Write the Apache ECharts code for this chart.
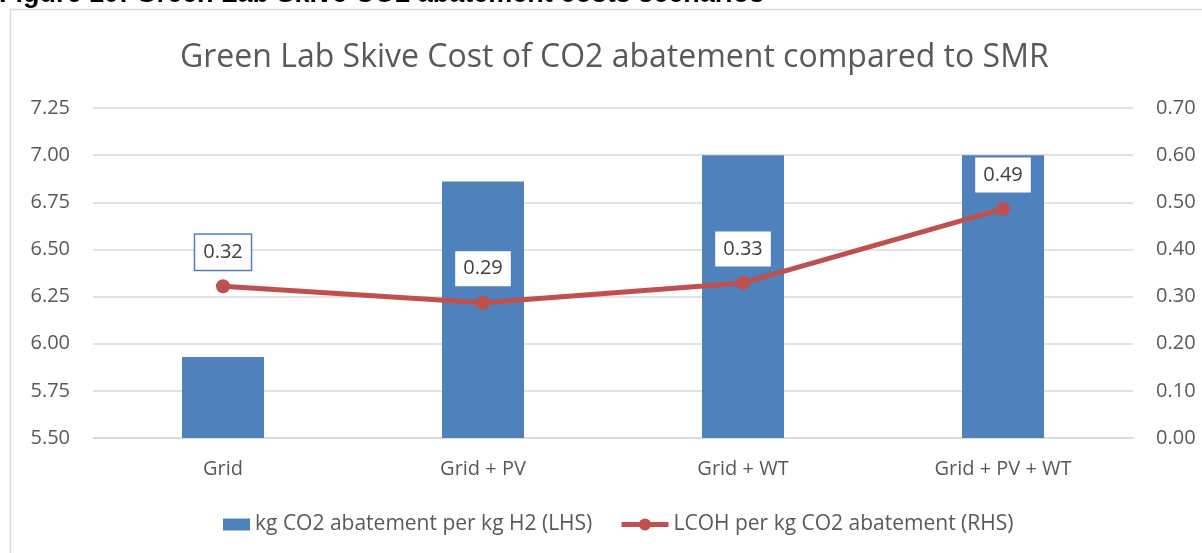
<!DOCTYPE html>
<html>
<head>
<meta charset="utf-8">
<script src="https://cdn.jsdelivr.net/npm/echarts@6/dist/echarts.min.js"></script>
<style>
  html, body { margin: 0; padding: 0; background: #fff; }
  #chart { width: 1202px; height: 553px; }
</style>
</head>
<body>
<div id="chart"></div>
<script>
var categories = ['Grid', 'Grid + PV', 'Grid + WT', 'Grid + PV + WT'];
var abatement = [5.93, 6.86, 7.00, 7.00];     // kg CO2 abatement per kg H2 (LHS)
var lcoh = [0.322, 0.287, 0.329, 0.486];       // LCOH per kg CO2 abatement (RHS)
var leftTicks = { min: 5.5, max: 7.25, step: 0.25 };
var rightTicks = { min: 0, max: 0.7, step: 0.1 };

var barName = 'kg CO2 abatement per kg H2 (LHS)';
var lineName = 'LCOH per kg CO2 abatement (RHS)';

var font = 'Open Sans';
var grey = '#595959';
var lineRed = '#c0504d';

var chart = echarts.init(document.getElementById('chart'));

chart.setOption({
  animation: false,
  title: {
    text: 'Green Lab Skive Cost of CO2 abatement compared to SMR',
    left: 175,
    top: 37,
    textStyle: { fontFamily: font, fontSize: 32, fontWeight: 'normal', color: grey }
  },
  graphic: [
    {
      type: 'rect',
      shape: { x: 10.5, y: 9.5, width: 1300, height: 700 },
      style: { fill: null, stroke: '#d9d9d9', lineWidth: 1.5 },
      silent: true
    },
    {
      // caption above the chart, mostly cut off by the top edge
      type: 'text',
      x: -1,
      y: -5,
      style: {
        text: 'Figure 10: Green Lab Skive CO2 abatement costs scenarios',
        font: 'bold 27px "Liberation Sans", Arial',
        fill: '#000',
        verticalAlign: 'middle'
      },
      silent: true
    }
  ],
  legend: [
    {
      left: 218,
      top: 509,
      itemWidth: 27,
      itemHeight: 12,
      textStyle: { fontFamily: font, fontSize: 21, color: grey },
      data: [{ name: barName, icon: 'rect' }]
    },
    {
      left: 614,
      top: 509,
      itemWidth: 47,
      itemHeight: 15,
      lineStyle: { width: 5 },
      textStyle: { fontFamily: font, fontSize: 21, color: grey },
      data: [{ name: lineName }]
    }
  ],
  grid: { left: 93, right: 69, top: 108, bottom: 115 },
  xAxis: {
    type: 'category',
    data: categories,
    axisTick: { show: false },
    axisLine: { lineStyle: { color: '#d9d9d9', width: 1.5 } },
    axisLabel: { fontFamily: font, fontSize: 20, color: grey, margin: 21 }
  },
  yAxis: [
    {
      type: 'value',
      min: leftTicks.min,
      max: leftTicks.max,
      interval: leftTicks.step,
      axisLine: { show: false },
      axisTick: { show: false },
      splitLine: { lineStyle: { color: '#d9d9d9', width: 1.5 } },
      axisLabel: {
        fontFamily: font, fontSize: 20, color: grey, margin: 23,
        formatter: function (v) { return v.toFixed(2); }
      }
    },
    {
      type: 'value',
      min: rightTicks.min,
      max: rightTicks.max,
      interval: rightTicks.step,
      axisLine: { show: false },
      axisTick: { show: false },
      splitLine: { show: false },
      axisLabel: {
        fontFamily: font, fontSize: 20, color: grey, margin: 23,
        formatter: function (v) { return v.toFixed(2); }
      }
    }
  ],
  series: [
    {
      name: barName,
      type: 'bar',
      yAxisIndex: 0,
      barWidth: 82,
      itemStyle: { color: '#4f81bd' },
      data: abatement
    },
    {
      name: lineName,
      type: 'line',
      yAxisIndex: 1,
      symbol: 'circle',
      symbolSize: 14,
      itemStyle: { color: lineRed },
      lineStyle: { color: lineRed, width: 5 },
      label: {
        show: true,
        position: 'inside',
        offset: [0, -34],
        fontFamily: font,
        fontSize: 20,
        color: '#404040',
        backgroundColor: '#fff',
        padding: [8, 8, 7, 8],
        formatter: function (p) { return p.value.toFixed(2); }
      },
      data: lcoh.map(function (v, i) {
        var d = { value: v };
        if (i === 0) d.label = { borderColor: '#4f81bd', borderWidth: 1.5 };
        return d;
      })
    }
  ]
});
</script>
</body>
</html>
